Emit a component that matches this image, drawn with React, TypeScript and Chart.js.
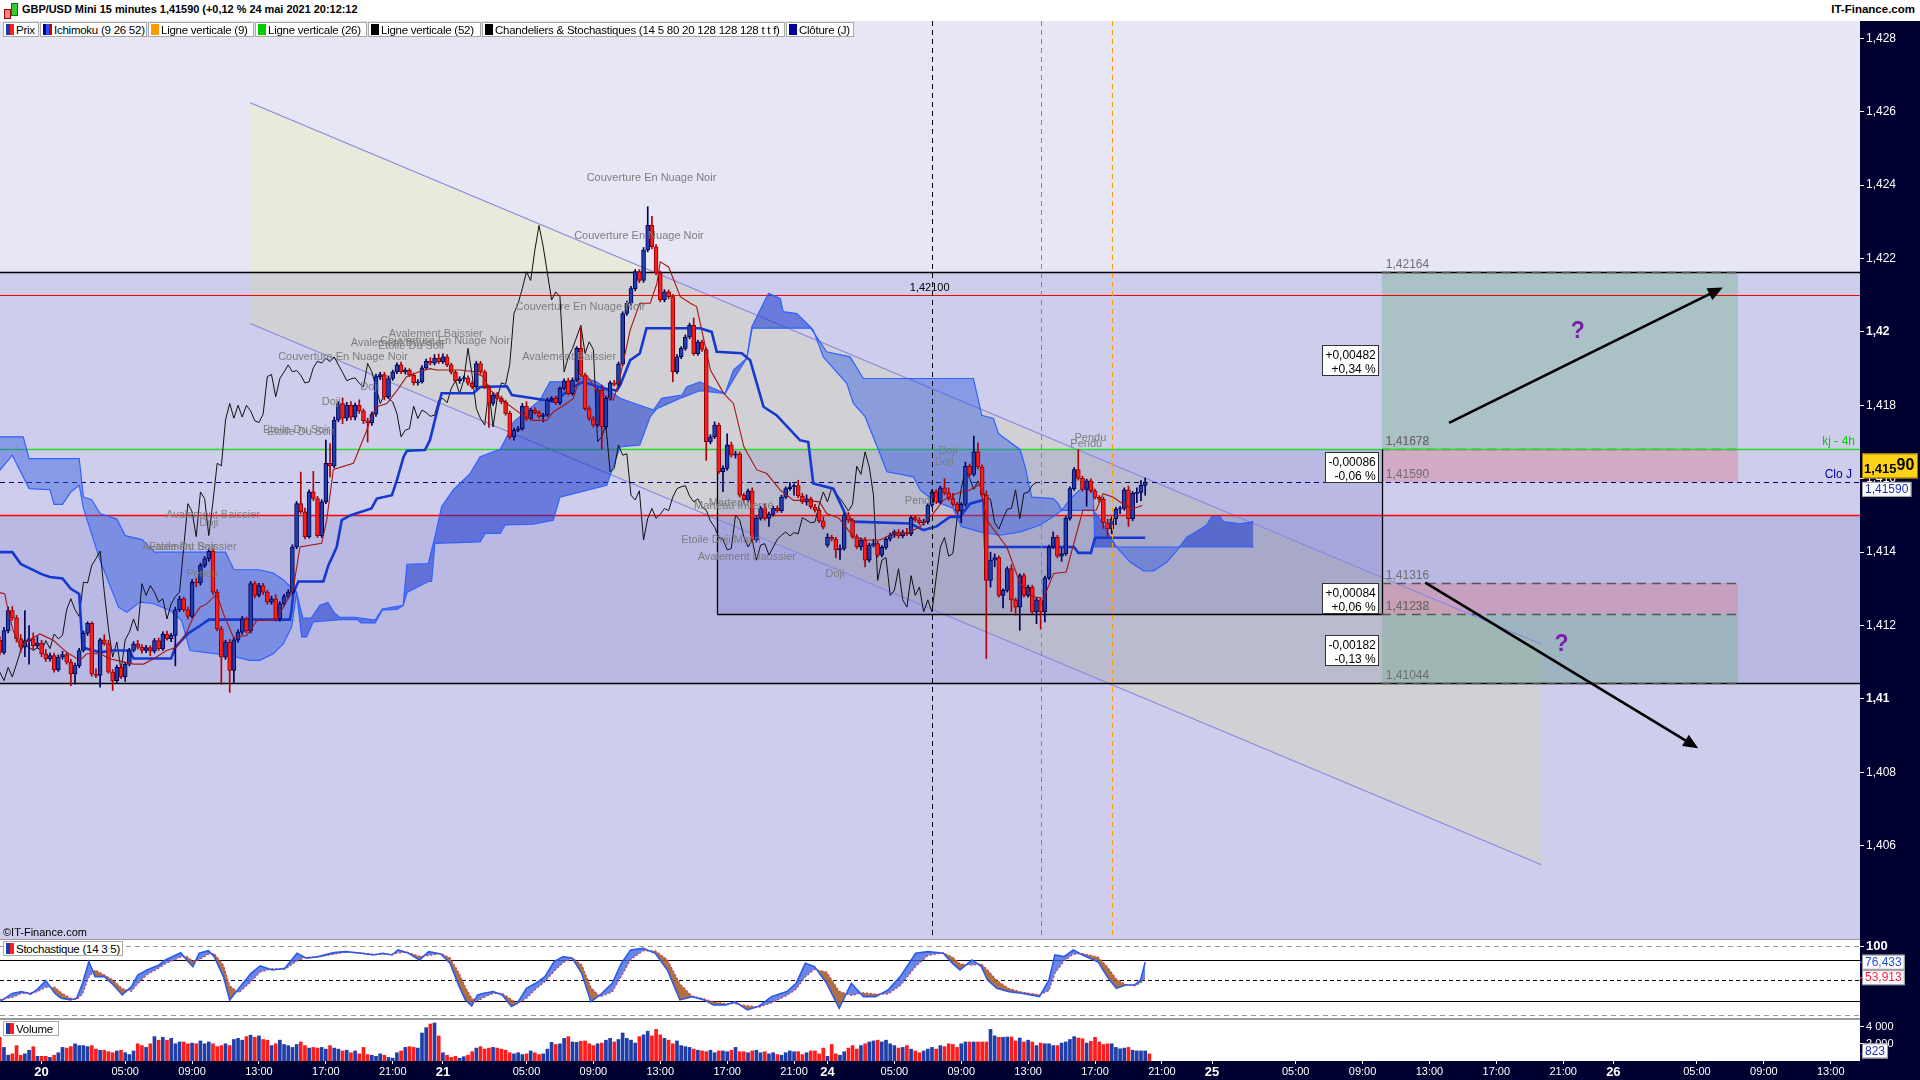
import React, { useEffect, useRef } from "react";
import { Chart, registerables } from "chart.js";

Chart.register(...registerables);

const FONT = '"Liberation Sans", Arial, Helvetica, sans-serif';

// ---------------- data ----------------
// prices are stored in pips above PRICE_BASE (1 pip = 0.0001)
const PRICE_BASE = 1.41;
const PIP = 0.0001;
const FIRST_BAR = -10; // bar index of the first candle; bar 0 = 20 May 00:00, 15-minute bars
const CHIKOU_SHIFT = 26;

// [open, high, low, close]
const ohlcPips = [
  [16,17,12,12.7],[12.7,19.5,12.2,18.6],[18.6,25,18,24.1],[24.1,25.2,21.4,22.1],[22.1,22.8,15.5,16.4],
  [16.4,17.5,12.7,14.1],[14.1,24.1,11.5,15.9],[15.9,20,9.5,16.4],[16.4,18,13.5,14.5],[14.5,17,13.8,15.2],
  [15.2,16,11.5,12.3],[12.3,13.5,10.2,10.9],[10.9,12.5,10.3,11.8],[11.8,12.5,7.3,7.9],[7.9,12,7.5,11.4],
  [11.4,13,10.8,12.1],[12.1,12.8,9.5,10],[10,10.8,3.6,6.8],[6.8,9.8,4,9.1],[9.1,13.8,8.5,13.2],
  [13.2,18.5,12.8,17.9],[17.9,21,17.3,20.6],[20.6,21,6.2,6.8],[6.8,8.2,5.8,6.4],[6.4,16.5,3.2,16.1],
  [16.1,17.5,14.6,15],[15,16,7,7.3],[7.3,8,2.3,5],[5,9.2,4.5,8.6],[8.6,9.5,5.5,6],
  [6,10,4.8,9.5],[9.5,13.8,9,13.2],[13.2,15.6,12.8,15],[15,16,13.6,14.1],[14.1,14.8,12.5,13.2],
  [13.2,14.6,12.6,14],[14,14.5,11.8,13],[13,16.5,12.5,15.9],[15.9,16.6,13.2,13.7],[13.7,18.3,13.2,17.7],
  [17.7,18.5,16,16.4],[16.4,17.9,15.6,17.3],[17.3,25,9,24.3],[24.3,28,23.8,27.3],[27.3,27.8,23.8,24.3],
  [24.3,25,21.8,22.5],[22.5,32.5,22,31.8],[31.8,32.8,30.5,31.6],[31.6,37,31,36.4],[36.4,38.8,35.8,38.2],
  [38.2,41,37.5,40.3],[40.3,41,28.5,29.1],[29.1,29.8,18.5,19.1],[19.1,19.8,4,11.4],[11.4,16,10.8,15.5],
  [15.5,16.2,1.8,7.8],[7.8,16.8,4.5,16.1],[16.1,18.8,15.5,18.2],[18.2,22.5,17.6,21.8],[21.8,22.3,18,18.5],
  [18.5,32,18,31.4],[31.4,32,27.5,28.2],[28.2,31.5,27.8,30.9],[30.9,31.5,28.5,29.1],[29.1,29.6,25.8,26.4],
  [26.4,28,25.8,27.3],[27.3,28.4,21.2,21.8],[21.8,26.5,21.2,25.9],[25.9,28.5,25.3,27.9],[27.9,29.8,27.3,29.1],
  [29.1,42,28.6,41.4],[41.4,53.8,40.9,53.2],[53.2,61.8,50.5,51],[51,52,43.6,44.2],[44.2,57,43.8,56.4],
  [56.4,62,54,54.6],[54.6,55.2,44,44.5],[44.5,54.3,44,53.7],[53.7,70.5,53.2,64.2],[64.2,69.6,60.5,63.5],
  [63.5,76.8,63,76],[76,81,75.5,80.5],[80.5,82,75,76.5],[76.5,80.8,75.8,80],[80,81,76,76.8],
  [76.8,80.6,76,80],[80,81.5,77.8,78.5],[78.5,79,75,75.8],[75.8,76.5,70,75.3],[75.3,78.2,74.5,77.6],
  [77.6,88.5,77,87.8],[87.8,89,87,88.4],[88.4,89,81.5,82.3],[82.3,88,81.8,87.3],[87.3,89.6,86.8,89.1],
  [89.1,91.6,88.6,91],[91,91.8,88.6,89.1],[89.1,90.2,88.5,89.5],[89.5,90,87.8,88.2],[88.2,88.8,85.5,86.1],
  [86.1,87,85.5,86.4],[86.4,90.8,86,90.2],[90.2,92.6,89.8,92],[92,93,91,91.5],[91.5,93.8,91,92.8],
  [92.8,94,91.4,91.9],[91.9,94,91.4,93.2],[93.2,93.8,90.5,91],[91,91.5,88.5,89],[89,89.5,86.2,86.7],
  [86.7,87.8,86,87.2],[87.2,88,86.6,87.5],[87.5,88,85.5,86],[86,86.5,84.5,85],[85,92,84.6,91.4],
  [91.4,92,88.5,89.1],[89.1,89.6,84.5,85],[85,85.5,74,80.5],[80.5,83.5,80,82.8],[82.8,83.5,81.5,81.9],
  [81.9,82.5,80.4,80.9],[80.9,81.4,77.3,77.8],[77.8,78.4,70.8,71.4],[71.4,73.8,70.5,73.2],[73.2,74.2,72.8,73.6],
  [73.6,80.5,73.2,79.8],[79.8,81,75.8,76.4],[76.4,79.2,76,78.7],[78.7,79.4,77.6,78],[78,78.5,76.5,77],
  [77,77.8,75.5,77.3],[77.3,82,77,81.4],[81.4,82.4,81,81.9],[81.9,82.5,80.2,80.7],[80.7,85,80.2,84.6],
  [84.6,87.2,84.2,86.7],[86.7,87.4,82.8,83.2],[83.2,87.5,82.8,86.9],[86.9,96,86.5,95.5],[95.5,101,87.8,88.2],
  [88.2,88.8,78.6,79.1],[79.1,79.8,75.8,76.4],[76.4,77,74,74.6],[74.6,84.6,74.2,84.1],[84.1,85.5,68,74.1],
  [74.1,82.4,73.6,81.9],[81.9,86.6,81.4,86.1],[86.1,86.8,85.2,85.7],[85.7,91.8,85.2,91.2],[91.2,105.5,90.8,105],
  [105,108.4,104.5,107.8],[107.8,112.4,107.2,111.8],[111.8,117,111.2,116.4],[116.4,117,113.4,114],[114,123,113.5,122.3],
  [122.3,134.1,121.8,129],[129,131.5,122.6,123.2],[123.2,123.8,115.5,116],[116,116.6,108.2,108.7],[108.7,111.5,108.2,110.9],
  [110.9,111.4,109,109.6],[109.6,110.2,86.4,89.1],[89.1,93.8,88.6,93.2],[93.2,96,92.7,95.5],[95.5,99.2,95,98.6],
  [98.6,102.4,98.1,101.8],[101.8,103.8,93.6,94.1],[94.1,97.8,93.6,97.3],[97.3,97.8,94.7,95.2],[95.2,95.7,65,70.1],
  [70.1,72,69.5,71.4],[71.4,75.5,70.9,74.6],[74.6,75.2,61.4,61.9],[61.9,63.5,56.5,62.8],[62.8,72.2,62.3,69.2],
  [69.2,70,65.9,66.4],[66.4,67.5,65.6,66.8],[66.8,67.3,55,55.5],[55.5,56,53.6,54.2],[54.2,57.2,53.7,56.7],
  [56.7,57.5,42.8,43.3],[43.3,49.8,42.8,49.2],[49.2,52.5,48.7,51.9],[51.9,53,48.7,49.2],[49.2,50.9,47,50.3],
  [50.3,52.5,49.8,51.9],[51.9,52.6,50.8,51.3],[51.3,55.5,50.8,55],[55,57.8,54.5,57.3],[57.3,59,56.8,57.8],
  [57.8,58.6,55.5,58.1],[58.1,59.6,54.8,55.3],[55.3,56,53.2,53.7],[53.7,55.6,52.8,54.5],[54.5,55,51.8,52.3],
  [52.3,53,50.9,51.4],[51.4,52,48,48.5],[48.5,49.6,46.3,46.8],[41.9,45,41.4,44],[44,44.6,43,43.5],
  [43.5,44,38.5,40.6],[40.6,42,38,41],[41,50.7,40.5,50.1],[50.1,50.8,48,48.7],[48.7,49.2,43.7,44.2],
  [44.2,44.8,40.9,41.4],[41.4,43.9,40.5,43.3],[43.3,44,36,37.8],[37.8,42.5,37.3,41.9],[41.9,43.5,41.4,42.3],
  [42.3,43,38.6,39.2],[39.2,41.8,38.7,41.3],[41.3,44,40.8,43.5],[43.5,45.2,43,44.6],[44.6,46,44,45.5],
  [45.5,46.2,43.8,44.4],[44.4,46,43.9,45.3],[45.3,46.5,44.5,45],[45,49.9,44.5,49.4],[49.4,50,48.2,48.7],
  [48.7,49.4,47.5,48],[48,49,47.4,48.2],[48.2,53.3,47.7,52.8],[52.8,57,52.3,56.4],[56.4,57,53.2,53.7],
  [53.7,58,53.2,57.5],[57.5,60,55.6,56.1],[56.1,57.5,54.1,54.6],[54.6,56,52.5,53],[53,53.6,50.7,51.2],
  [51.2,53.5,48,53],[53,64.5,52.5,63.4],[63.4,64,60.7,61.2],[61.2,71.6,60.7,67.3],[67.3,69.8,62.7,63.2],
  [63.2,63.8,55,55.5],[55.5,56.7,11,32.3],[32.3,40,30.5,37.8],[37.8,39.5,36,38.5],[38.5,39,27.7,28.2],
  [28.2,30,24.8,29.6],[29.6,36,29.1,35.5],[35.5,36.6,23.8,27],[27,27.5,22.8,25],[25,34.1,18.7,33.6],
  [33.6,34.2,27.7,28.2],[28.2,31,27.7,30.5],[30.5,31,23.2,23.7],[23.7,27.5,20.5,27],[27,27.5,19,23.7],
  [23.7,33.5,21,33],[33,41.9,32.5,41.4],[41.4,45.5,41,44],[44,44.6,38.4,38.9],[38.9,41,37.5,39.6],
  [39.6,49.7,39.1,49.2],[49.2,57.8,48.7,57.3],[57.3,63,56.8,62.5],[62.5,68,59.6,60.1],[60.1,60.7,56.6,57.1],
  [57.1,59.9,52.5,59.4],[59.4,60,56.2,56.7],[56.7,57.2,54.4,54.9],[54.9,55.4,53.5,54.4],[54.4,55,46.5,48],
  [48,49,44.3,46.3],[46.3,49.6,45,49.1],[49.1,52.2,47.5,51.7],[51.7,52.5,50.5,51.9],[51.9,57.5,51.4,57],
  [57,58,47,49.1],[49.1,56.5,48.6,56],[56,57.5,53.5,56.3],[56.3,59.5,54,58.2],[58.2,60.2,55.5,59],
];

const volumes = [
  2750,1580,670,830,1790,670,830,1250,1670,540,
  540,540,420,670,960,1580,1500,1670,2000,1790,
  1790,1670,1790,1380,1250,1250,1080,960,1170,1250,
  960,750,1170,2000,1790,1580,2000,2830,2420,2750,
  2420,2630,2000,2210,2210,2000,2080,2000,2330,2000,
  2210,2000,1670,1790,2000,1790,2500,2630,2420,2830,
  3000,2750,2920,2500,2420,1790,2000,2420,1920,1790,
  1580,1920,2210,1790,1500,1580,1500,1580,1380,1790,
  1500,1380,1170,1250,960,1170,830,1580,750,670,
  540,830,670,420,330,960,1170,1580,1670,1580,
  1500,3250,3880,4300,4420,2920,960,670,420,540,
  330,500,670,1080,1500,1670,1380,1500,1580,1500,
  1380,1250,960,830,960,750,830,1170,960,750,
  830,1380,2170,1920,2000,2630,2830,2210,2170,2290,
  2330,2000,1790,2000,2080,2420,2630,2210,2500,3250,
  2630,2420,2080,2830,3040,3460,2920,3670,3040,2630,
  2420,2000,2330,1790,1670,1580,1380,1250,1170,1080,
  1250,960,1170,1170,1080,1250,1580,1080,1080,960,
  1170,1250,960,1080,830,960,750,670,960,1170,
  1080,1080,750,960,1170,1170,830,1500,540,1920,
  830,670,1080,1500,1790,1380,1790,2000,2210,2330,
  2420,2210,2420,2000,1790,1500,1580,1790,1380,1170,
  960,1170,1380,1580,1380,1790,1670,2000,1920,1580,
  2000,2210,2210,2210,2210,2210,2210,3670,2920,2750,
  2750,2790,2790,2330,2670,2210,2420,2210,1790,2080,
  2000,2000,1790,1790,2080,2210,2500,2830,2670,2590,
  2080,2290,2750,2210,1920,2000,2000,1580,1420,1500,
  1580,1250,1170,1170,1170,823,
];

// Ichimoku lines: [bar, pips]
const tenkanPips = [
  [-10,29],[-8.8,28.6],[-8,24],[-6.8,18.6],[-5.2,14.5],[-0.4,17.7],[2.8,16],[6,12.7],[9.2,10.5],[10.8,12.3],
  [14,12.3],[16.4,10.9],[18,10.5],[22,9.5],[24.4,9.5],[26.7,10.9],[29.9,13.2],[32.3,14.1],[34.7,18.2],[36.3,22.3],
  [37.9,25],[39.5,25.9],[41.9,28.6],[43.5,23.2],[45.9,16.8],[49.1,17.3],[51.5,21.4],[53.9,21.4],[56.3,21.8],[58.7,26.8],
  [60.2,30],[61.8,41.4],[67,42.4],[68.2,48.7],[69.8,62.5],[74.6,64.2],[76.2,68.7],[77.8,73.2],[78.6,76],[80.2,79.6],
  [82.6,80.5],[85,84],[87.3,87.8],[90.5,89.2],[92.9,90],[94.6,89.6],[100.1,89.6],[103.2,89.2],[105.7,87.8],[107.3,84.1],
  [111.3,80.5],[114.5,77.8],[117.6,75.9],[120.8,75.9],[122.4,78.2],[125.6,80.5],[127.2,81.9],[128.8,87.8],[130.4,88.2],[132.8,84.1],
  [135.2,82.3],[136.8,81.4],[138.4,87.8],[140.8,100.5],[143.1,107.8],[145.6,107.8],[147.2,113.2],[148,119.1],[150,117.7],[152.8,109.6],
  [155.2,107.8],[156.7,106.9],[160,89.6],[163.2,83.2],[165.5,80.5],[168,68.7],[171.1,62.4],[173.5,61.4],[176.7,56.9],[179.9,54.1],
  [183,54.1],[186.1,53.7],[187.8,50.5],[190.8,49.2],[194.2,44.2],[197.4,43.3],[200.6,43.3],[203.8,45.1],[207,45.1],[210.1,46.9],
  [213.3,50.5],[215.7,54.1],[218.9,56],[222.1,56.9],[224.5,58.5],[226.1,48.7],[230.9,41.4],[234.1,31.4],[237.3,27.8],[239.7,27.4],
  [242.1,34.2],[245.1,34.6],[246.7,41.4],[249.1,51.4],[252.3,51.4],[253.9,55.9],[256.3,55],[258.6,53.2],[261,51.8],[263.3,52.7],
];

const kijunPips = [
  [-10,40],[-7,40],[-5,36.8],[0,34],[2,33.2],[5,32.8],[7,30],[9,28.6],[9.8,14],[14,12.7],
  [17,13.2],[21,13.2],[22,11],[31,11],[32,14.1],[35,17.8],[38,20],[40,21.6],[59.4,21.6],[59.8,24.2],
  [60.2,28.7],[61.4,32],[67.4,32],[68.6,36.4],[70.6,41.4],[71.8,48.7],[73.8,50],[78.9,51.9],[80.2,54.6],[83.8,55.5],
  [85,59.6],[86.6,66],[87.4,67.6],[91.7,67.8],[92.9,70.5],[94.5,77.9],[95.7,83.3],[103.3,83.3],[104.9,85],[111.3,85.2],
  [112.5,82.8],[117.6,81.9],[122.4,81],[127.2,85],[129.6,86.4],[134.4,84.6],[137.6,84],[138.4,85.5],[140.8,92.3],[143.1,94.1],
  [144.7,101],[157.5,101],[160.3,100],[161.5,94.6],[167.5,94.2],[169.5,92.3],[172.7,79.6],[175.8,77.3],[181.4,70.5],[183.4,70],
  [184.6,58.7],[189.4,57.3],[192.6,49.6],[194.2,48.3],[207.8,47.8],[211,46],[214.1,47],[217.3,49.6],[219.7,49.6],[222.1,53.2],
  [225.3,54.2],[225.7,41.4],[247,41.4],[248,39.8],[251,39.8],[252,43.9],[264,43.9],
];

const spanAPips = [
  [-10,62.3],[-7,66.4],[-3,57.3],[2,57],[3,53],[5,53],[7,56.4],[9,58.2],[10,52],[14,37.7],
  [18.4,25],[20.4,23.6],[23.5,26.4],[26.7,26],[30.7,24.1],[33.5,21.4],[35.5,13.2],[45.1,11.8],[49.8,10.5],[52.2,10.5],
  [55.4,12.3],[57.8,15],[59.8,19.6],[61,28.9],[62.5,22],[64.5,22],[66.6,25.5],[68.5,26.3],[70,23.5],[71.4,22.2],
  [75,22.2],[79.8,21.5],[81.5,24.5],[86.5,25.5],[87.4,36.7],[92.5,36.9],[94.1,44.2],[95.7,52.4],[98.5,57],[102.5,61.4],
  [104.9,66],[109.7,68],[111.3,71.4],[112.9,75.5],[119.2,81.4],[121.6,86.4],[127.2,86.4],[129.6,87.6],[132.8,86.4],[138.4,81.9],
  [143.1,80],[146.4,78.7],[148.3,81.9],[153.2,82.8],[154.3,85],[157.5,86.4],[160.7,84.6],[163.5,83.2],[165.5,89.6],[168.7,92.8],
  [169.9,101.4],[173.9,110.5],[176.7,109.1],[177.4,105.5],[180.7,105],[184.2,101],[184.6,100.5],[187,93.2],[192.6,86],[194.2,80.5],
  [197,76.9],[200.2,67.8],[202.2,61.9],[208.6,60.5],[210.2,56.9],[213.4,54],[218,52],[220,47],[224.5,45.5],[229.3,44.6],
  [234.1,45.5],[238.8,47.3],[242.4,50],[244,51.4],[251.4,51.4],[252.6,50],[257.2,41.3],[260.4,37.3],[263.6,34.9],[266,34.9],
  [269.2,37.3],[271.6,40.5],[274,44.1],[276.3,45.6],[278.7,47.4],[279.9,49.7],[281.9,49.7],[282.7,48.3],[286.7,47.7],[289.9,48.3],
];

const spanBPips = [
  [-10,71.4],[-4.4,71.4],[-3,65.5],[9,65.5],[10,55],[12,54.3],[14,50.5],[18,49],[20,44.5],[24,43.4],
  [27,40],[44,40],[46,35.2],[52,35.2],[55.4,34.3],[57.8,32.5],[59.4,30.7],[61,28.9],[62.2,16.9],[63.4,16.9],
  [65,21],[71.4,21.6],[75.5,21.6],[76.4,20.7],[79.8,20.7],[81.5,24.2],[85,24.4],[86.5,25.5],[87.4,29],[92.5,32],
  [93.3,32],[94.1,42.4],[104.9,42.8],[106.1,45.1],[109.7,45.1],[110.9,47.4],[117.6,47.6],[122.4,48.7],[124,55],[135.2,58.2],
  [138.4,68.7],[143.1,69.2],[145.6,76.9],[147.2,79.1],[152.7,81.9],[157.5,84],[163.5,83.2],[166,88],[168.7,92.8],[170,101],
  [184,101],[187.8,94.6],[193.4,93.2],[196.6,87.3],[222.9,87.3],[224.1,81.4],[224.9,77.3],[227.7,76.4],[228.9,72.3],[234.1,67.9],
  [235.3,63.2],[236.1,58.7],[236.9,55],[242,54.6],[243.2,53.2],[244,51.4],[246.5,55],[249.2,57.8],[251.5,57.5],[252,41.4],
  [289.9,41.4],
];

// Stochastic (14 3 5): [bar, value]
const stochK = [
  [-10,19],[-7,31],[-4.8,33.6],[-2.6,30],[-1.2,36],[1,49.6],[3.2,31],[4.7,24],[6.9,21.5],[8.4,24],
  [9.8,45.7],[11.3,77.2],[12.8,55.4],[15,55.4],[17.2,43.3],[19.3,28.7],[21.5,40.9],[23,57.8],[25.2,65.1],[28.1,72.4],
  [29.6,79.7],[33.3,90.3],[34.7,79.7],[36.2,70],[37.7,89.4],[39.9,93.2],[41.3,84.5],[43.5,55.4],[45,21.5],[47.2,38.4],
  [50.1,60.3],[52.3,70.9],[55.2,65.1],[58.2,67.5],[61.1,89.4],[63.3,82.1],[66.2,84.5],[69.9,90.3],[72.8,91.8],[76.5,89.4],
  [79.4,86.9],[81.6,89.4],[83.8,86.9],[85.3,94.2],[87.5,90.3],[90.4,79.7],[92.6,91.8],[95.5,88.4],[97.7,74.8],[99.9,40.9],
  [101.4,21.5],[102.9,12.7],[104.3,28.7],[105.8,31.2],[108,33.6],[110.2,28.7],[112.4,11.8],[113.8,16.6],[116,38.4],[118.2,45.7],
  [120.4,55.4],[122.6,77.2],[124.8,84.5],[127,82.1],[129.2,60.3],[131.4,19],[133.6,28.7],[136.5,45.7],[138.7,74.8],[140.9,94.2],
  [143.9,96.6],[146.8,89.4],[149.7,65.1],[152.7,21.5],[155.6,26.3],[158.5,21.5],[160.7,14.2],[163.7,14.2],[165.9,19],[168.8,6.9],
  [171.7,12.7],[174.6,26.3],[178.3,33.6],[180.5,45.7],[182.7,74.8],[184.9,70],[187.8,45.7],[190.8,9.3],[193.7,45.7],[196.6,26.3],
  [199.5,26.3],[202.5,36],[205.4,55.4],[209.1,89.4],[212,91.8],[215.7,89.4],[217.9,74.8],[219.7,65.1],[222.6,79.7],[224.8,70],
  [226.3,50.5],[228.5,38.4],[231.4,33.6],[234.4,31.2],[238.7,26.3],[241,50.5],[242.4,87],[244.6,84.5],[246.8,94.2],[249,87],
  [252.7,77.2],[254.9,55.4],[257.1,38.4],[259.3,43.3],[261.5,43.3],[262.9,50.5],[264,76.4],
];
const stochD = [
  [-10,22],[-7,25],[-4.8,31],[-2.6,32],[-1.2,33],[1,40],[3.2,40],[4.7,32],[6.9,24],[8.4,22],
  [9.8,30],[11.3,55],[12.8,65],[15,58],[17.2,50],[19.3,38],[21.5,34],[23,45],[25.2,58],[28.1,68],
  [29.6,74],[33.3,84],[34.7,85],[36.2,78],[37.7,80],[39.9,88],[41.3,89],[43.5,72],[45,42],[47.2,32],
  [50.1,48],[52.3,62],[55.2,67],[58.2,66],[61.1,78],[63.3,84],[66.2,84],[69.9,88],[72.8,91],[76.5,90],
  [79.4,88],[81.6,88],[83.8,88],[85.3,90],[87.5,91],[90.4,85],[92.6,86],[95.5,89],[97.7,83],[99.9,60],
  [101.4,40],[102.9,24],[104.3,20],[105.8,25],[108,31],[110.2,31],[112.4,22],[113.8,16],[116,24],[118.2,37],
  [120.4,48],[122.6,63],[124.8,76],[127,82],[129.2,73],[131.4,40],[133.6,26],[136.5,33],[138.7,56],[140.9,80],
  [143.9,93],[146.8,93],[149.7,80],[152.7,45],[155.6,27],[158.5,23],[160.7,19],[163.7,16],[165.9,16],[168.8,13],
  [171.7,11],[174.6,17],[178.3,28],[180.5,37],[182.7,55],[184.9,66],[187.8,62],[190.8,34],[193.7,28],[196.6,32],
  [199.5,30],[202.5,30],[205.4,42],[209.1,70],[212,86],[215.7,90],[217.9,84],[219.7,74],[222.6,72],[224.8,74],
  [226.3,65],[228.5,50],[231.4,38],[234.4,33],[238.7,29],[241,35],[242.4,60],[244.6,78],[246.8,88],[249,89],
  [252.7,84],[254.9,70],[257.1,52],[259.3,44],[261.5,42],[262.9,46],[264,53.9],
];

const priceTicks = [1.406, 1.408, 1.41, 1.412, 1.414, 1.416, 1.418, 1.42, 1.422, 1.424, 1.426, 1.428];
const boldPriceTicks = [1.41, 1.42];
const stochTicks = [100];
const volumeTicks = [2000, 4000];
const timeTickBars = [0,20,36,52,68,84,96,116,132,148,164,180,188,204,220,236,252,268,280,300,316,332,348,364,376,396,412,428];
const timeTickLabels = ["20","05:00","09:00","13:00","17:00","21:00","21","05:00","09:00","13:00","17:00","21:00","24","05:00","09:00","13:00","17:00","21:00","25","05:00","09:00","13:00","17:00","21:00","26","05:00","09:00","13:00"];

// drawing-tool levels (pips above 1.41)
const LEVEL_R1 = 116.4;    // 1,42164
const LEVEL_RED_HI = 110;  // 1,42100
const LEVEL_KJ4H = 68;     // 1,41680
const LEVEL_CLOSE = 59;    // 1,41590
const LEVEL_RED_LO = 50;   // 1,41500
const LEVEL_S1 = 31.6;     // 1,41316
const LEVEL_S2 = 23.2;     // 1,41232
const LEVEL_S3 = 4.4;      // 1,41044
const RECT_LEFT_BAR = 161.6;
const RECT_RIGHT_BAR = 320.6;
const TARGET_END_BAR = 405.8;
const channelTop = [[49.9, 162.4], [358.8, 14.9]];
const channelBottom = [[49.9, 102.3], [358.8, -45.2]];
const verticalBars = [213, 239, 256]; // vertical lines 52, 26, 9 bars back
const arrowsPips = [[336.7, 75.2, 402.2, 112.1], [331, 31.7, 396.3, -13.4]];
const questionMarks = [[367.5, 100], [363.6, 14.7]];
const changeBoxes = [[96.4, "+0,00482", "+0,34 %"], [67.3, "-0,00086", "-0,06 %"], [31.5, "+0,00084", "+0,06 %"], [17.4, "-0,00182", "-0,13 %"]];
const levelTexts = [[LEVEL_R1, "1,42164"], [LEVEL_KJ4H, "1,41678"], [LEVEL_KJ4H, "1,41672"], [LEVEL_CLOSE, "1,41590"], [LEVEL_S1, "1,41316"], [LEVEL_S2, "1,41232"], [LEVEL_S2, "1,41238"], [LEVEL_S3, "1,41044"]];
const patternLabels = [
  [145.9, 142, "Couverture En Nuage Noir"],
  [142.9, 126, "Couverture En Nuage Noir"],
  [128.9, 106.7, "Couverture En Nuage Noir"],
  [126.2, 93.3, "Avalement Baissier"],
  [94.3, 99.5, "Avalement Baissier"],
  [96.5, 97.6, "Couverture En Nuage Noir"],
  [85.2, 96.9, "Avalement Baissier"],
  [88.5, 96.2, "Etoile Du Soir"],
  [72.1, 93.3, "Couverture En Nuage Noir"],
  [69.3, 81, "Doji"],
  [78.5, 85, "Doji"],
  [61, 73.4, "Etoile Du Soir"],
  [62, 72.8, "Etoile Du Soir"],
  [41, 50, "Avalement Baissier"],
  [40, 48, "Doji"],
  [35.4, 41.3, "Avalement Baissier"],
  [33.8, 41.5, "Etoile Du Soir"],
  [38.4, 34, "Pendu"],
  [164.4, 53.4, "Marteau"],
  [165.6, 52.5, "Marteau Inversé"],
  [162.5, 43.2, "Etoile Doji Matin"],
  [168.7, 38.7, "Avalement Haussier"],
  [189.8, 34.1, "Doji"],
  [210.3, 54, "Pendu"],
  [216.8, 67.6, "Doji"],
  [215.9, 64.6, "Doji"],
  [250.9, 71, "Pendu"],
  [249.9, 69.6, "Pendu"],
];

// ranges shown
const X_MIN = -9.95;
const X_MAX = 435;
const Y_MIN_PIPS = -65.4;
const Y_MAX_PIPS = 184.7;
const STOCH_MIN = -6.3;
const STOCH_MAX = 110.2;
const VOL_MAX = 4880;
const CURRENT_K = "76,433";
const CURRENT_D = "53,913";
const CURRENT_VOL = 823;

// ---------------- helpers ----------------
const P = (p: number) => PRICE_BASE + p * PIP;
const AXIS_BG = "#000030";
const BULL = "#1f3fae";
const BEAR = "#ff1c1c";

function fmtPrice(v: number) {
  return v.toFixed(3).replace(/0+$/, "").replace(".", ",");
}

function drawArrow(ctx: any, x1: number, y1: number, x2: number, y2: number) {
  const a = Math.atan2(y2 - y1, x2 - x1);
  const L = 15, W = 6.5;
  const hx = x2 - L * Math.cos(a), hy = y2 - L * Math.sin(a);
  ctx.strokeStyle = "#000";
  ctx.fillStyle = "#000";
  ctx.lineWidth = 2.6;
  ctx.beginPath(); ctx.moveTo(x1, y1); ctx.lineTo(hx, hy); ctx.stroke();
  ctx.beginPath();
  ctx.moveTo(x2, y2);
  ctx.lineTo(hx - W * Math.sin(a), hy + W * Math.cos(a));
  ctx.lineTo(hx + W * Math.sin(a), hy - W * Math.cos(a));
  ctx.closePath(); ctx.fill();
}

function valueBox(ctx: any, x: number, yc: number, text: string, color: string, font: string) {
  ctx.font = font;
  const w = ctx.measureText(text).width + 6;
  ctx.fillStyle = "#fff";
  ctx.fillRect(x, yc - 7.5, w, 15);
  ctx.strokeStyle = "#9a9a9a"; ctx.lineWidth = 1;
  ctx.strokeRect(x + 0.5, yc - 7, w - 1, 14);
  ctx.fillStyle = color;
  ctx.textAlign = "left"; ctx.textBaseline = "middle";
  ctx.fillText(text, x + 3, yc + 0.5);
}

const mainPlugin = {
  id: "mainDecor",
  beforeDraw(chart: any) {
    const { ctx, chartArea: a } = chart;
    const xs = chart.scales.x, ys = chart.scales.y;
    const xp = (i: number) => xs.getPixelForValue(i);
    const yp = (p: number) => ys.getPixelForValue(P(p));
    ctx.save();
    ctx.fillStyle = AXIS_BG;
    ctx.fillRect(0, 0, chart.width, chart.height);
    ctx.beginPath(); ctx.rect(a.left, a.top, a.right - a.left, a.bottom - a.top); ctx.clip();
    ctx.fillStyle = "#e6e6f5";
    ctx.fillRect(a.left, a.top, a.right - a.left, a.bottom - a.top);
    // regression channel
    ctx.fillStyle = "#e9e9dc";
    ctx.beginPath();
    ctx.moveTo(xp(channelTop[0][0]), yp(channelTop[0][1]));
    ctx.lineTo(xp(channelTop[1][0]), yp(channelTop[1][1]));
    ctx.lineTo(xp(channelBottom[1][0]), yp(channelBottom[1][1]));
    ctx.lineTo(xp(channelBottom[0][0]), yp(channelBottom[0][1]));
    ctx.closePath(); ctx.fill();
    // shaded zones
    const shade = (x0: number, x1: number, p0: number, p1: number) => {
      ctx.fillStyle = "rgba(0,0,155,0.1)";
      ctx.fillRect(xp(x0), yp(p0), xp(x1) - xp(x0), yp(p1) - yp(p0));
    };
    shade(X_MIN, X_MAX, LEVEL_R1, Y_MIN_PIPS);
    shade(X_MIN, X_MAX, LEVEL_RED_LO, LEVEL_S3);
    shade(RECT_LEFT_BAR, RECT_RIGHT_BAR, LEVEL_KJ4H, LEVEL_S2);
    // target boxes
    const box = (p0: number, p1: number, c: string) => {
      ctx.fillStyle = c;
      ctx.fillRect(xp(RECT_RIGHT_BAR), yp(p0), xp(TARGET_END_BAR) - xp(RECT_RIGHT_BAR), yp(p1) - yp(p0));
    };
    const TEAL = "rgba(122,177,146,0.42)", PINK = "rgba(220,125,146,0.42)";
    box(LEVEL_R1, LEVEL_KJ4H, TEAL);
    box(LEVEL_KJ4H, LEVEL_CLOSE, PINK);
    box(LEVEL_S1, LEVEL_S2, PINK);
    box(LEVEL_S2, LEVEL_S3, TEAL);
    // channel borders
    ctx.strokeStyle = "#8787e0"; ctx.lineWidth = 1.1;
    for (const line of [channelTop, channelBottom]) {
      ctx.beginPath();
      ctx.moveTo(xp(line[0][0]), yp(line[0][1]));
      ctx.lineTo(xp(line[1][0]), yp(line[1][1]));
      ctx.stroke();
    }
    // horizontal levels
    const hline = (p: number, color: string, w: number, dash: number[], x0 = X_MIN, x1 = X_MAX) => {
      ctx.strokeStyle = color; ctx.lineWidth = w; ctx.setLineDash(dash);
      const y = Math.round(yp(p)) + 0.5;
      ctx.beginPath(); ctx.moveTo(xp(x0), y); ctx.lineTo(xp(x1), y); ctx.stroke();
      ctx.setLineDash([]);
    };
    hline(LEVEL_R1, "#000", 1.3, []);
    hline(LEVEL_RED_HI, "#ff0000", 1, []);
    hline(LEVEL_RED_LO, "#ff0000", 1.3, []);
    hline(LEVEL_S3, "#000", 1.3, []);
    hline(LEVEL_S2, "#000", 1.3, [], RECT_LEFT_BAR, RECT_RIGHT_BAR);
    for (const p of [LEVEL_R1, LEVEL_KJ4H, LEVEL_S1, LEVEL_S2, LEVEL_S3]) {
      hline(p, "#555", 1.6, [9, 6], RECT_RIGHT_BAR, TARGET_END_BAR);
    }
    hline(LEVEL_KJ4H, "#22dd22", 1.3, []);
    hline(LEVEL_CLOSE, "#00007a", 1.2, [5, 4]);
    ctx.strokeStyle = "#000"; ctx.lineWidth = 1.3;
    for (const b of [RECT_LEFT_BAR, RECT_RIGHT_BAR]) {
      const x = Math.round(xp(b)) + 0.5;
      ctx.beginPath(); ctx.moveTo(x, yp(LEVEL_KJ4H)); ctx.lineTo(x, yp(LEVEL_S2)); ctx.stroke();
    }
    ctx.restore();
  },
  afterDatasetsDraw(chart: any) {
    const { ctx, chartArea: a } = chart;
    const xs = chart.scales.x, ys = chart.scales.y;
    const xp = (i: number) => xs.getPixelForValue(i);
    const yp = (p: number) => ys.getPixelForValue(P(p));
    ctx.save();
    ctx.beginPath(); ctx.rect(a.left, a.top, a.right - a.left, a.bottom - a.top); ctx.clip();
    // vertical lines
    const vColors = ["#000000", "#22cc22", "#ff9900"];
    verticalBars.forEach((b, k) => {
      const x = Math.round(xp(b)) + 0.5;
      ctx.strokeStyle = vColors[k]; ctx.lineWidth = 1; ctx.setLineDash([5, 4]);
      ctx.beginPath(); ctx.moveTo(x, a.top); ctx.lineTo(x, a.bottom); ctx.stroke();
    });
    ctx.setLineDash([]);
    // arrows and question marks
    for (const [i1, p1, i2, p2] of arrowsPips) drawArrow(ctx, xp(i1), yp(p1), xp(i2), yp(p2));
    ctx.fillStyle = "#7a1fa6";
    ctx.font = `bold 23px ${FONT}`;
    ctx.textAlign = "center"; ctx.textBaseline = "middle";
    for (const [i, p] of questionMarks) ctx.fillText("?", xp(i), yp(p));
    // pattern labels
    ctx.font = `11px ${FONT}`;
    ctx.fillStyle = "#7d7d7d";
    for (const [i, p, t] of patternLabels as any[]) ctx.fillText(t, xp(i), yp(p));
    // level texts
    ctx.textAlign = "left"; ctx.textBaseline = "alphabetic";
    ctx.font = `12px ${FONT}`;
    ctx.fillStyle = "#6e6e6e";
    for (const [p, t] of levelTexts as any[]) ctx.fillText(t, xp(RECT_RIGHT_BAR) + 4, yp(p) - 4);
    // change boxes
    ctx.font = `12px ${FONT}`;
    for (const [p, t1, t2] of changeBoxes as any[]) {
      const w = Math.max(ctx.measureText(t1).width, ctx.measureText(t2).width) + 6;
      const xr = xp(RECT_RIGHT_BAR) - 3;
      const y0 = Math.round(yp(p)) + 0.5;
      ctx.fillStyle = "#fff";
      ctx.fillRect(xr - w, y0, w, 30);
      ctx.strokeStyle = "#333"; ctx.lineWidth = 1;
      ctx.strokeRect(Math.round(xr - w) + 0.5, y0, Math.round(w), 30);
      ctx.fillStyle = "#000";
      ctx.textAlign = "right";
      ctx.fillText(t1, xr - 3, y0 + 13);
      ctx.fillText(t2, xr - 3, y0 + 27);
    }
    // right-edge labels
    ctx.textAlign = "right";
    ctx.font = `12px ${FONT}`;
    ctx.fillStyle = "#00d000";
    ctx.fillText("kj - 4h", a.right - 5, yp(LEVEL_KJ4H) - 4);
    ctx.fillStyle = "#00009a";
    ctx.fillText("Clo J", a.right - 8, yp(LEVEL_CLOSE) - 4);
    ctx.textAlign = "left";
    ctx.fillStyle = "#000";
    ctx.font = `11px ${FONT}`;
    ctx.fillText("1,42100", xp(207.7), yp(LEVEL_RED_HI) - 4);
    ctx.fillText("©IT-Finance.com", a.left + 3, a.bottom - 3);
    ctx.restore();
  },
  afterDraw(chart: any) {
    const { ctx, chartArea: a } = chart;
    const ys = chart.scales.y;
    const y = ys.getPixelForValue(P(LEVEL_CLOSE));
    const x = a.right + 2;
    ctx.save();
    // yellow last price box
    ctx.fillStyle = "#ffd21a";
    ctx.fillRect(x, y - 29, 56, 25);
    ctx.strokeStyle = "#a07800"; ctx.lineWidth = 1;
    ctx.strokeRect(x + 0.5, y - 28.5, 55, 24);
    ctx.fillStyle = "#000";
    ctx.textAlign = "left"; ctx.textBaseline = "alphabetic";
    ctx.font = `bold 13px ${FONT}`;
    ctx.fillText("1,415", x + 2, y - 9);
    const w = ctx.measureText("1,415").width;
    ctx.font = `bold 16px ${FONT}`;
    ctx.fillText("90", x + 2 + w, y - 12);
    valueBox(ctx, x, y + 7, "1,41590", "#1a2fc0", `12px ${FONT}`);
    ctx.restore();
  },
};

const stochPlugin = {
  id: "stochDecor",
  beforeDraw(chart: any) {
    const { ctx, chartArea: a } = chart;
    ctx.save();
    ctx.fillStyle = AXIS_BG; ctx.fillRect(0, 0, chart.width, chart.height);
    ctx.fillStyle = "#fff"; ctx.fillRect(a.left, a.top, a.right - a.left, a.bottom - a.top);
    ctx.restore();
  },
  beforeDatasetsDraw(chart: any) {
    const { ctx, chartArea: a } = chart;
    const ys = chart.scales.y;
    const h = (v: number, color: string, dash: number[], w: number) => {
      const y = Math.round(ys.getPixelForValue(v)) + 0.5;
      ctx.strokeStyle = color; ctx.lineWidth = w; ctx.setLineDash(dash);
      ctx.beginPath(); ctx.moveTo(a.left, y); ctx.lineTo(a.right, y); ctx.stroke();
    };
    ctx.save();
    h(100, "#999", [5, 4], 1);
    h(0, "#999", [5, 4], 1);
    h(80, "#000", [], 1.2);
    h(20, "#000", [], 1.2);
    h(50, "#000", [4, 3], 1.2);
    ctx.setLineDash([]);
    ctx.strokeStyle = "#9a9a9a"; ctx.lineWidth = 1;
    ctx.beginPath(); ctx.moveTo(a.left, a.top + 0.5); ctx.lineTo(a.right, a.top + 0.5); ctx.stroke();
    ctx.beginPath(); ctx.moveTo(a.left, a.bottom - 0.5); ctx.lineTo(a.right, a.bottom - 0.5); ctx.stroke();
    ctx.restore();
  },
  afterDraw(chart: any) {
    const { ctx, chartArea: a } = chart;
    const ys = chart.scales.y;
    ctx.save();
    const kv = stochK[stochK.length - 1][1], dv = stochD[stochD.length - 1][1];
    ctx.fillStyle = "#2a5ae8"; ctx.fillRect(a.right, ys.getPixelForValue(kv) - 0.5, 3, 1.5);
    ctx.fillStyle = "#ff2a4a"; ctx.fillRect(a.right, ys.getPixelForValue(dv) - 0.5, 3, 1.5);
    valueBox(ctx, a.right + 2, ys.getPixelForValue(kv), CURRENT_K, "#2050e0", `12px ${FONT}`);
    valueBox(ctx, a.right + 2, ys.getPixelForValue(dv), CURRENT_D, "#ff1a40", `12px ${FONT}`);
    ctx.restore();
  },
};

const volumePlugin = {
  id: "volDecor",
  beforeDraw(chart: any) {
    const { ctx, chartArea: a } = chart;
    ctx.save();
    ctx.fillStyle = AXIS_BG; ctx.fillRect(0, 0, chart.width, chart.height);
    ctx.fillStyle = "#fff"; ctx.fillRect(a.left, a.top, a.right - a.left, a.bottom - a.top);
    ctx.strokeStyle = "#9a9a9a"; ctx.lineWidth = 1;
    ctx.beginPath(); ctx.moveTo(a.left, a.top + 0.5); ctx.lineTo(a.right, a.top + 0.5); ctx.stroke();
    ctx.restore();
  },
  afterDraw(chart: any) {
    const { ctx, chartArea: a } = chart;
    const ys = chart.scales.y;
    ctx.save();
    const y = ys.getPixelForValue(CURRENT_VOL);
    ctx.fillStyle = "#1a2fc0"; ctx.fillRect(a.right, y - 0.5, 3, 1.5);
    valueBox(ctx, a.right + 2, y - 3, String(CURRENT_VOL), "#1a2fc0", `12px ${FONT}`);
    ctx.restore();
  },
};

const rightAxis = (min: number, max: number, ticks: number[], cb: (v: number) => string, font: any) => ({
  type: "linear",
  position: "right",
  min,
  max,
  afterFit: (s: any) => { s.width = 60; s.paddingTop = 0; s.paddingBottom = 0; },
  afterBuildTicks: (s: any) => { s.ticks = ticks.map((v) => ({ value: v })); },
  border: { display: false },
  grid: { drawOnChartArea: false, drawTicks: true, tickLength: 4, tickColor: "#ffffff" },
  ticks: { color: "#ffffff", padding: 2, callback: cb, font },
});

const hiddenX = {
  type: "linear",
  min: X_MIN,
  max: X_MAX,
  offset: false,
  display: false,
};

export default function App() {
  const mainRef = useRef<HTMLCanvasElement | null>(null);
  const stochRef = useRef<HTMLCanvasElement | null>(null);
  const volRef = useRef<HTMLCanvasElement | null>(null);

  useEffect(() => {
    document.body.style.margin = "0";
    const bars = ohlcPips.map((c, k) => ({ x: FIRST_BAR + k, o: c[0], h: c[1], l: c[2], c: c[3] }));
    const isBull = bars.map((b) => b.c >= b.o);
    const line = (arr: number[][]) => arr.map(([x, p]) => ({ x, y: P(p) }));

    const common = {
      responsive: false,
      animation: false,
      devicePixelRatio: 1,
      events: [],
      layout: { padding: 0 },
      plugins: { legend: { display: false }, tooltip: { enabled: false }, title: { display: false } },
    };

    const main = new Chart(mainRef.current as any, {
      type: "line",
      data: {
        datasets: [
          {
            type: "line", data: line(spanAPips), borderColor: "#2f63ff", borderWidth: 1.2, pointRadius: 0,
            fill: { target: "+1", above: "rgba(25,55,205,0.55)", below: "rgba(50,90,225,0.45)" }, order: 20,
          },
          { type: "line", data: line(spanBPips), borderColor: "#2f63ff", borderWidth: 1.2, pointRadius: 0, fill: false, order: 19 },
          {
            type: "line",
            data: bars.map((b) => ({ x: b.x - CHIKOU_SHIFT, y: P(b.c) })),
            borderColor: "#111", borderWidth: 1, pointRadius: 0, fill: false, order: 15,
          },
          { type: "line", data: line(kijunPips), borderColor: "#1438d0", borderWidth: 2.6, pointRadius: 0, fill: false, order: 12 },
          {
            type: "bar",
            data: bars.map((b) => ({ x: b.x, y: [P(b.l), P(b.h)] })),
            backgroundColor: isBull.map((u) => (u ? "#00005a" : "#b00000")),
            barThickness: 1, grouped: false, order: 6,
          },
          {
            type: "bar",
            data: bars.map((b) => ({ x: b.x, y: [P(Math.min(b.o, b.c)), P(Math.max(b.o, b.c))] })),
            backgroundColor: isBull.map((u) => (u ? BULL : BEAR)),
            borderColor: isBull.map((u) => (u ? "#000058" : "#8c0000")),
            borderWidth: 1, borderSkipped: false, barThickness: 4, minBarLength: 1, grouped: false, order: 5,
          },
          { type: "line", data: line(tenkanPips), borderColor: "#a81414", borderWidth: 1.1, pointRadius: 0, fill: false, order: 2 },
        ],
      },
      options: {
        ...common,
        scales: {
          x: hiddenX,
          y: rightAxis(P(Y_MIN_PIPS), P(Y_MAX_PIPS), priceTicks, (v: any) => fmtPrice(Number(v)), (c: any) => ({
            family: FONT,
            size: 12,
            weight: c.tick && boldPriceTicks.some((b) => Math.abs(b - c.tick.value) < 1e-9) ? "bold" : "normal",
          })),
        },
      },
      plugins: [mainPlugin],
    } as any);

    const stoch = new Chart(stochRef.current as any, {
      type: "line",
      data: {
        datasets: [
          {
            data: stochK.map(([x, v]) => ({ x, y: v })), borderColor: "#2a5ae8", borderWidth: 1.6, pointRadius: 0,
            fill: { target: 1, above: "rgba(60,100,225,0.78)", below: "rgba(165,92,40,0.88)" },
          },
          {
            data: stochD.map(([x, v]) => ({ x, y: v })), borderColor: "#ff2a4a", borderWidth: 1.2, borderDash: [2, 2],
            pointRadius: 0, fill: false,
          },
        ],
      },
      options: {
        ...common,
        scales: {
          x: hiddenX,
          y: rightAxis(STOCH_MIN, STOCH_MAX, stochTicks, (v: any) => String(v), { family: FONT, size: 13, weight: "bold" }),
        },
      },
      plugins: [stochPlugin],
    } as any);

    const vol = new Chart(volRef.current as any, {
      type: "bar",
      data: {
        datasets: [
          {
            data: volumes.map((v, k) => ({ x: FIRST_BAR + k, y: v })),
            backgroundColor: volumes.map((_, k) => (isBull[k] ? "#1f3ea8" : "#ff1c1c")),
            barThickness: 3, grouped: false,
          },
        ],
      },
      options: {
        ...common,
        scales: {
          x: {
            type: "linear", min: X_MIN, max: X_MAX, offset: false, position: "bottom",
            afterFit: (s: any) => { s.height = 19; s.paddingLeft = 0; s.paddingRight = 0; },
            afterBuildTicks: (s: any) => { s.ticks = timeTickBars.map((v) => ({ value: v })); },
            border: { display: false },
            grid: { drawOnChartArea: false, drawTicks: true, tickLength: 3, tickColor: "#ffffff", offset: false },
            ticks: {
              color: "#ffffff", padding: 1, autoSkip: false, maxRotation: 0, minRotation: 0,
              callback: (_v: any, i: number) => timeTickLabels[i],
              font: (c: any) => {
                const idx = timeTickBars.indexOf(c.tick ? c.tick.value : -1);
                const day = idx >= 0 && timeTickLabels[idx].length <= 2;
                return { family: FONT, size: day ? 13 : 11, weight: day ? "bold" : "normal" };
              },
            },
          },
          y: rightAxis(0, VOL_MAX, volumeTicks, (v: any) => Number(v).toLocaleString("fr-FR").replace(/\s/g, " "), { family: FONT, size: 11 }),
        },
      },
      plugins: [volumePlugin],
    } as any);

    return () => { main.destroy(); stoch.destroy(); vol.destroy(); };
  }, []);

  const legendItem = (label: string, colors: string[], width: number) => (
    <div key={label} style={{
      width, height: 15, boxSizing: "border-box", background: "#fff", border: "1px solid #a8a8a8",
      display: "flex", alignItems: "center", padding: "0 2px", marginRight: 1, overflow: "hidden", whiteSpace: "nowrap",
    }}>
      <div style={{ display: "flex", height: 11, marginRight: 2 }}>
        {colors.map((c, k) => <div key={k} style={{ width: colors.length > 2 ? 3 : 4, height: 11, background: c }} />)}
      </div>
      <span style={{ fontSize: 11.5, letterSpacing: -0.25, color: "#000" }}>{label}</span>
    </div>
  );

  return (
    <div style={{ position: "relative", width: 1920, height: 1080, background: "#fff", fontFamily: FONT, overflow: "hidden" }}>
      <div style={{ position: "absolute", left: 0, top: 0, width: 1920, height: 21, background: "#fff" }}>
        <div style={{ position: "absolute", left: 4, top: 9, width: 5, height: 8, background: "#e88", border: "1px solid #a00" }} />
        <div style={{ position: "absolute", left: 11, top: 3, width: 5, height: 11, background: "#3c3", border: "1px solid #070" }} />
        <div style={{
          position: "absolute", left: 22, top: 3, fontSize: 11.5, fontWeight: "bold", whiteSpace: "nowrap",
          transform: "scaleX(0.95)", transformOrigin: "left top", color: "#000",
        }}>
          GBP/USD Mini 15 minutes 1,41590 (+0,12 % 24 mai 2021 20:12:12
        </div>
        <div style={{ position: "absolute", right: 5, top: 3, fontSize: 11.5, fontWeight: "bold", color: "#000" }}>IT-Finance.com</div>
      </div>
      <canvas ref={mainRef} width={1920} height={918} style={{ position: "absolute", left: 0, top: 21 }} />
      <canvas ref={stochRef} width={1920} height={80} style={{ position: "absolute", left: 0, top: 939 }} />
      <canvas ref={volRef} width={1920} height={61} style={{ position: "absolute", left: 0, top: 1019 }} />
      <div style={{ position: "absolute", left: 3, top: 22, display: "flex" }}>
        {legendItem("Prix", ["#1c3ca8", "#ff2020"], 36)}
        {legendItem("Ichimoku (9 26 52)", ["#000080", "#2050ff", "#cc0000"], 107)}
        {legendItem("Ligne verticale (9)", ["#ff9900", "#ff9900"], 106)}
        {legendItem("Ligne verticale (26)", ["#00cc00", "#00cc00"], 112)}
        {legendItem("Ligne verticale (52)", ["#000000", "#000000"], 113)}
        {legendItem("Chandeliers & Stochastiques (14 5 80 20 128 128 128 t t f)", ["#000000", "#000000"], 303)}
        {legendItem("Clôture (J)", ["#000099", "#000099"], 68)}
      </div>
      <div style={{ position: "absolute", left: 3, top: 941, display: "flex" }}>
        {legendItem("Stochastique (14 3 5)", ["#1c3ca8", "#ff2020"], 120)}
      </div>
      <div style={{ position: "absolute", left: 3, top: 1021, display: "flex" }}>
        {legendItem("Volume", ["#1c3ca8", "#ff2020"], 56)}
      </div>
    </div>
  );
}
